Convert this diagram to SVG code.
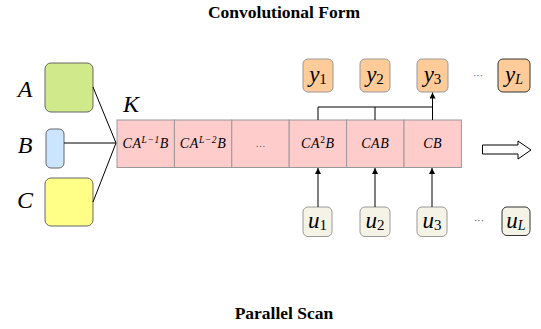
<svg xmlns="http://www.w3.org/2000/svg" width="541" height="329" viewBox="0 0 541 329">
  <style>
    .title { font-family: "Liberation Serif", serif; font-weight: bold; font-size: 17.5px; fill: #000; }
    .math { font-family: "Liberation Serif", "DejaVu Serif", serif; font-style: italic; fill: #000; }
    .big { font-size: 24px; }
    .cell { fill: #ffcccc; stroke: #999999; stroke-width: 1; }
    .cellt { font-size: 14px; letter-spacing: 0.6px; }
    .ybox { fill: #ffcc99; stroke: #999999; stroke-width: 1; }
    .ubox { fill: #f5f3e6; stroke: #999999; stroke-width: 1; }
    .last { stroke: #333333; }
    .io { font-size: 23px; }
    .sub { font-style: normal; font-size: 15px; }
    .subi { font-size: 14px; }
    .wire { fill: none; stroke: #000; stroke-width: 1; }
    .dots { font-family: "Liberation Serif", serif; font-size: 10px; fill: #555; }
  </style>
  <defs>
    <marker id="arr" viewBox="0 0 6 6" refX="6" refY="3" markerWidth="6" markerHeight="6" orient="auto" markerUnits="userSpaceOnUse">
      <path d="M0,0 L6,3 L0,6 Z" fill="#000"/>
    </marker>
  </defs>

  <text class="title" x="284" y="18" text-anchor="middle">Convolutional Form</text>
  <text class="title" x="284" y="319" text-anchor="middle">Parallel Scan</text>

  <!-- state matrices -->
  <g id="A">
    <text class="math big" x="25" y="97" text-anchor="middle">A</text>
    <rect x="45" y="63" width="48" height="49" rx="6" fill="#d0e98b" stroke="#666" stroke-width="1"/>
  </g>
  <g id="B">
    <text class="math big" x="25" y="153" text-anchor="middle">B</text>
    <rect x="46" y="129" width="18" height="39" rx="5" fill="#cce5ff" stroke="#666" stroke-width="1"/>
  </g>
  <g id="C">
    <text class="math big" x="25" y="208" text-anchor="middle">C</text>
    <rect x="45" y="178" width="48" height="48" rx="6" fill="#ffff88" stroke="#666" stroke-width="1"/>
  </g>

  <!-- kernel strip -->
  <g id="K">
    <text class="math big" x="131" y="112" text-anchor="middle">K</text>
    <rect class="cell" x="117" y="120" width="57.4" height="47.5"/>
    <rect class="cell" x="174.4" y="120" width="57.4" height="47.5"/>
    <rect class="cell" x="231.8" y="120" width="57.4" height="47.5"/>
    <rect class="cell" x="289.2" y="120" width="57.4" height="47.5"/>
    <rect class="cell" x="346.6" y="120" width="57.4" height="47.5"/>
    <rect class="cell" x="404" y="120" width="57.4" height="47.5"/>
    <text class="math cellt" x="145.7" y="148" text-anchor="middle">CA<tspan font-size="9.5" dy="-5">L−1</tspan><tspan dy="5">B</tspan></text>
    <text class="math cellt" x="203.1" y="148" text-anchor="middle">CA<tspan font-size="9.5" dy="-5">L−2</tspan><tspan dy="5">B</tspan></text>
    <text class="dots" x="260.5" y="147" text-anchor="middle" font-size="13" fill="#333">…</text>
    <text class="math cellt" x="317.9" y="148" text-anchor="middle">CA<tspan font-size="9.5" font-style="normal" dy="-5">2</tspan><tspan dy="5">B</tspan></text>
    <text class="math cellt" x="375.3" y="148" text-anchor="middle">CAB</text>
    <text class="math cellt" x="432.7" y="148" text-anchor="middle">CB</text>
  </g>

  <!-- outputs -->
  <g id="y1">
    <rect class="ybox" x="303" y="59" width="30" height="33" rx="5"/>
    <text class="math io" x="318" y="82" text-anchor="middle">y<tspan class="sub" dy="2">1</tspan></text>
  </g>
  <g id="y2">
    <rect class="ybox" x="360" y="59" width="30" height="33" rx="5"/>
    <text class="math io" x="375" y="82" text-anchor="middle">y<tspan class="sub" dy="2">2</tspan></text>
  </g>
  <g id="y3">
    <rect class="ybox" x="417" y="59" width="31" height="33" rx="5"/>
    <text class="math io" x="432.5" y="82" text-anchor="middle">y<tspan class="sub" dy="2">3</tspan></text>
  </g>
  <text class="dots" x="478" y="79" text-anchor="middle">···</text>
  <g id="yL">
    <rect class="ybox last" x="498" y="59" width="32" height="33" rx="5"/>
    <text class="math io" x="514" y="82" text-anchor="middle">y<tspan class="subi" dy="2">L</tspan></text>
  </g>

  <!-- inputs -->
  <g id="u1">
    <rect class="ubox" x="303" y="207" width="29" height="29.5" rx="5"/>
    <text class="math io" x="317.5" y="228" text-anchor="middle">u<tspan class="sub" dy="2">1</tspan></text>
  </g>
  <g id="u2">
    <rect class="ubox" x="360" y="207" width="30" height="29.5" rx="5"/>
    <text class="math io" x="375" y="228" text-anchor="middle">u<tspan class="sub" dy="2">2</tspan></text>
  </g>
  <g id="u3">
    <rect class="ubox" x="417" y="207" width="30" height="29.5" rx="5"/>
    <text class="math io" x="432" y="228" text-anchor="middle">u<tspan class="sub" dy="2">3</tspan></text>
  </g>
  <text class="dots" x="479" y="224" text-anchor="middle">···</text>
  <g id="uL">
    <rect class="ubox last" x="502" y="207" width="28" height="28.5" rx="5"/>
    <text class="math io" x="516" y="228" text-anchor="middle">u<tspan class="subi" dy="2">L</tspan></text>
  </g>

  <!-- connectors -->
  <g id="connectors">
    <path class="wire" d="M93,87 L116,143 M64,143 L116,143 M93,202 L116,143"/>
    <path class="wire" d="M318,120 V107 H432.5"/>
    <path class="wire" d="M375,120 V107"/>
    <path class="wire" d="M432.5,120 V92.5" marker-end="url(#arr)"/>
    <path class="wire" d="M318,207 V168" marker-end="url(#arr)"/>
    <path class="wire" d="M375,207 V168" marker-end="url(#arr)"/>
    <path class="wire" d="M432,207 V168" marker-end="url(#arr)"/>
  </g>

  <!-- transform arrow -->
  <path d="M482.5,145 H518 V141 L531,150 L518,159 V154 H482.5 Z" fill="#fff" stroke="#000" stroke-width="1"/>
</svg>
